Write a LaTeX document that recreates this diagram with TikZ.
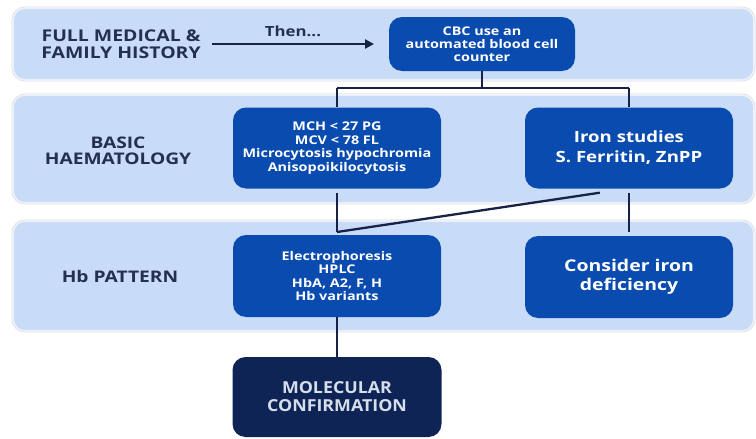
\documentclass[tikz,border=0pt]{standalone}
\usepackage{fontspec}
\setmainfont{Open Sans}[FakeStretch=1.2]
\newfontfamily\molfont{Open Sans}[FakeStretch=1.08]
\usetikzlibrary{arrows.meta,calc}
\definecolor{bandfill}{RGB}{200,220,247}
\definecolor{banddraw}{RGB}{236,240,248}
\definecolor{bandedge}{RGB}{214,214,214}
\definecolor{boxblue}{RGB}{10,75,176}
\definecolor{navybox}{RGB}{14,36,84}
\definecolor{linecol}{RGB}{24,34,70}
\definecolor{lblcol}{RGB}{36,48,78}
\definecolor{moltext}{RGB}{214,222,236}
\tikzset{
  band/.style={preaction={draw=bandedge, line width=2.8pt}, draw=banddraw, line width=1.8pt, fill=bandfill, rounded corners=12pt},
  bluebox/.style={fill=boxblue, rounded corners=13pt, text=white, align=center, font=\bfseries, inner sep=0pt},
  molbox/.style={fill=navybox, rounded corners=13pt, text=moltext, align=center, inner sep=0pt},
  lbl/.style={text=lblcol, align=center, font=\bfseries},
  conn/.style={draw=linecol, line width=2.3pt},
}
\begin{document}
\begin{tikzpicture}[x=1pt,y=-1pt]
\useasboundingbox (0,0) rectangle (756,439);
% bands
\path[band] (13,8) rectangle (754,80);
\path[band] (13,95) rectangle (754,203);
\path[band] (13,221) rectangle (754,331);
% labels
\node[lbl, font=\fontsize{16.2}{16.5}\selectfont\bfseries] (hist) at (121,44) {FULL MEDICAL \&\\FAMILY HISTORY};
\node[lbl, font=\fontsize{16}{16.5}\selectfont\bfseries] (basic) at (118,151) {BASIC\\HAEMATOLOGY};
\node[lbl, font=\fontsize{16}{16.5}\selectfont\bfseries] (hbp) at (120,276) {Hb PATTERN};
% boxes
\node[bluebox, minimum width=186pt, minimum height=54pt, font=\fontsize{12}{12.8}\selectfont\bfseries] (cbc) at (482,44) {CBC use an\\automated blood cell\\counter};
\node[bluebox, minimum width=208pt, minimum height=81pt, font=\fontsize{12}{13.5}\selectfont\bfseries] (mch) at (337,148) {MCH < 27 PG\\MCV < 78 FL\\Microcytosis hypochromia\\Anisopoikilocytosis};
\node[bluebox, minimum width=208pt, minimum height=81pt, font=\fontsize{15.5}{20}\selectfont\bfseries] (iron) at (629,148) {Iron studies\\S. Ferritin, ZnPP};
\node[bluebox, minimum width=208pt, minimum height=82pt, font=\fontsize{12}{13.5}\selectfont\bfseries] (elec) at (337,276) {Electrophoresis\\HPLC\\HbA, A2, F, H\\Hb variants};
\node[bluebox, minimum width=208pt, minimum height=82pt, font=\fontsize{16.2}{19}\selectfont\bfseries] (cons) at (629,277) {Consider iron\\deficiency};
\node[molbox, minimum width=209pt, minimum height=80pt, font=\fontsize{16.5}{18}\molfont\bfseries] (mol) at (337,397) {MOLECULAR\\CONFIRMATION};
% connectors
\node[lbl, font=\fontsize{14}{16}\selectfont\bfseries] (then) at (293,31) {Then...};
\coordinate (a0) at (212,44);
\coordinate (a1) at (374,44);
\draw[conn, -{Triangle[length=9pt,width=9pt]}] (a0) -- (a1);
\coordinate (split) at (482,88);
\draw[conn] (cbc.south) -- (split);
\draw[conn] (mch.north |- split) -- (iron.north |- split);
\draw[conn] (mch.north |- split) -- (mch.north);
\draw[conn] (iron.north |- split) -- (iron.north);
\coordinate (lj) at (337,232);
\draw[conn, shorten <=4pt] (mch.south) -- (lj);
\draw[conn] (lj) -- ($(iron.south west)!0.36!(iron.south east)+(0,4)$);
\draw[conn, shorten <=4pt, shorten >=4pt] (iron.south) -- (cons.north);
\draw[conn] (elec.south) -- (mol.north);
\end{tikzpicture}
\end{document}
